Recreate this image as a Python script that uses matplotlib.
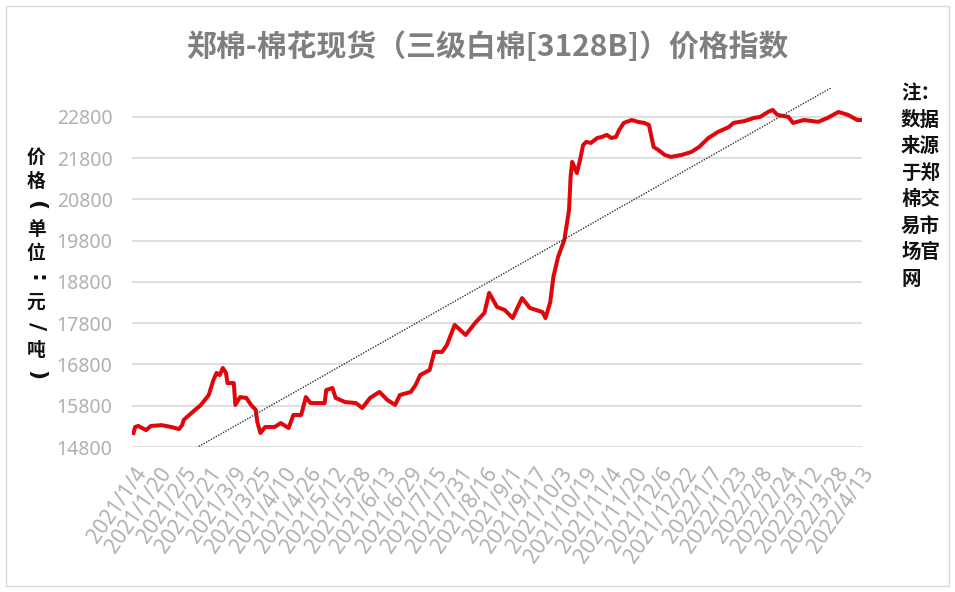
import numpy as np
import pandas as pd
import matplotlib
matplotlib.use('Agg')
import matplotlib.pyplot as plt
import matplotlib.patches as patches

plt.rcParams['font.family'] = ['Noto Sans CJK SC', 'DejaVu Sans']

# data: days after the first date, price (yuan/ton)
start_date = '2021-01-04'
day_offsets = [0, 1, 3, 8, 11, 18, 24, 29, 31, 32, 37, 43, 48, 51, 53,
               55, 57, 59, 60, 64, 65, 68, 72, 75, 78, 79, 81, 84, 90, 94,
               99, 102, 107, 110, 113, 122, 123, 127, 129, 135, 142, 146, 151, 157, 162,
               167, 170, 177, 180, 183, 189, 192, 197, 200, 205, 212, 218, 224, 227, 232,
               237, 242, 248, 253, 261, 263, 266, 268, 271, 275, 278, 279, 280, 283, 285,
               287, 289, 292, 296, 299, 302, 305, 308, 310, 313, 318, 322, 326, 329, 332,
               335, 339, 343, 350, 356, 361, 367, 373, 380, 383, 390, 396, 400, 405, 408,
               411, 418, 421, 428, 437, 443, 450, 456, 462, 464]
prices = [15140, 15285, 15310, 15210, 15310, 15330, 15285, 15235, 15330, 15455, 15625, 15820, 16060, 16425, 16595,
          16545, 16715, 16595, 16350, 16350, 15820, 16010, 15990, 15820, 15700, 15405, 15140, 15285, 15285, 15380,
          15260, 15575, 15575, 16010, 15865, 15865, 16180, 16230, 15990, 15890, 15865, 15745, 15990, 16135, 15940,
          15820, 16060, 16135, 16300, 16545, 16665, 17105, 17105, 17270, 17760, 17515, 17805, 18050, 18535, 18195,
          18120, 17925, 18410, 18170, 18070, 17925, 18315, 18920, 19405, 19820, 20545, 21345, 21710, 21440, 21755,
          22120, 22195, 22170, 22290, 22315, 22365, 22290, 22315, 22485, 22655, 22725, 22680, 22655, 22605, 22070,
          22000, 21880, 21830, 21880, 21950, 22070, 22290, 22435, 22555, 22655, 22700, 22775, 22800, 22920, 22970,
          22850, 22800, 22655, 22725, 22680, 22775, 22920, 22850, 22725, 22725]

# linear trendline (two points on it)
trend_days = [41, 445]
trend_values = [14800, 23500]

tick_labels = ['2021/1/4', '2021/1/20', '2021/2/5', '2021/2/21', '2021/3/9', '2021/3/25',
               '2021/4/10', '2021/4/26', '2021/5/12', '2021/5/28', '2021/6/13', '2021/6/29',
               '2021/7/15', '2021/7/31', '2021/8/16', '2021/9/1', '2021/9/17', '2021/10/3',
               '2021/10/19', '2021/11/4', '2021/11/20', '2021/12/6', '2021/12/22', '2022/1/7',
               '2022/1/23', '2022/2/8', '2022/2/24', '2022/3/12', '2022/3/28', '2022/4/13']
y_ticks = [14800, 15800, 16800, 17800, 18800, 19800, 20800, 21800, 22800]

title = '郑棉-棉花现货（三级白棉[3128B]）价格指数'
# vertical axis title, one character per line; punctuation is turned sideways
y_label_chars = ['价', '格', '(', '单', '位', ':', '元', '/', '吨', ')']
y_label_turned = [False, False, True, False, False, True, False, True, False, True]
note = '注：\n数据\n来源\n于郑\n棉交\n易市\n场官\n网'

start = pd.Timestamp(start_date)
dates = start + pd.to_timedelta(day_offsets, unit='D')
tick_dates = pd.to_datetime(tick_labels, format='%Y/%m/%d')

fig = plt.figure(figsize=(9.55, 5.92), dpi=100)
ax = fig.add_axes([0.1382, 0.2449, 0.7644, 0.6064])

ax.plot(dates, prices, color='#e0070c', lw=2.9, solid_joinstyle='round', zorder=3)

coef = np.polyfit(trend_days, trend_values, 1)
trend_x = np.array([0, day_offsets[-1]])
ax.plot(start + pd.to_timedelta(trend_x, unit='D'), np.polyval(coef, trend_x),
        color='#333333', lw=1.0, ls=(0, (1, 1)), zorder=4)

ax.set_ylim(14800, 23500)
ax.set_xlim(start - pd.Timedelta(days=1), dates[-1] + pd.Timedelta(days=1))
ax.set_yticks(y_ticks)
ax.set_yticklabels([str(v) for v in y_ticks], family='Noto Sans', fontsize=14, color='#b0b0b0')
ax.set_xticks(tick_dates)
ax.set_xticklabels(tick_labels, rotation=55, ha='right', rotation_mode='anchor',
                   family='Noto Sans', fontsize=15, color='#b0b0b0')
ax.tick_params(axis='y', length=0, pad=14)
ax.tick_params(axis='x', length=0, pad=12)
ax.grid(axis='y', color='#d9d9d9', lw=1.2)
ax.set_axisbelow(True)
for s in ax.spines.values():
    s.set_visible(False)

fig.text(0.51, 0.921, title, ha='center', va='center', fontsize=21.5,
         fontweight='bold', color='#7f7f7f')

for i, (ch, turned) in enumerate(zip(y_label_chars, y_label_turned)):
    if turned:
        fig.text(36 / 955, 1 - (157 + i * 24.2) / 592, ch, ha='center', va='center',
                 rotation=-90, family='DejaVu Sans', fontsize=16, fontweight='bold',
                 color='#111111')
    else:
        fig.text(36 / 955, 1 - (157 + i * 24.2) / 592, ch, ha='center', va='center',
                 fontsize=13.5, fontweight='bold', color='#111111')

fig.text(901 / 955, 1 - 84 / 592, note, ha='left', va='top', fontsize=14,
         fontweight='bold', color='#111111', linespacing=1.5)

fig.patches.append(patches.Rectangle((6 / 955, 6 / 592), 943 / 955, 580 / 592,
                                     transform=fig.transFigure, fill=False,
                                     edgecolor='#d8d8d8', lw=1))

fig.savefig('out.png', dpi=100)
